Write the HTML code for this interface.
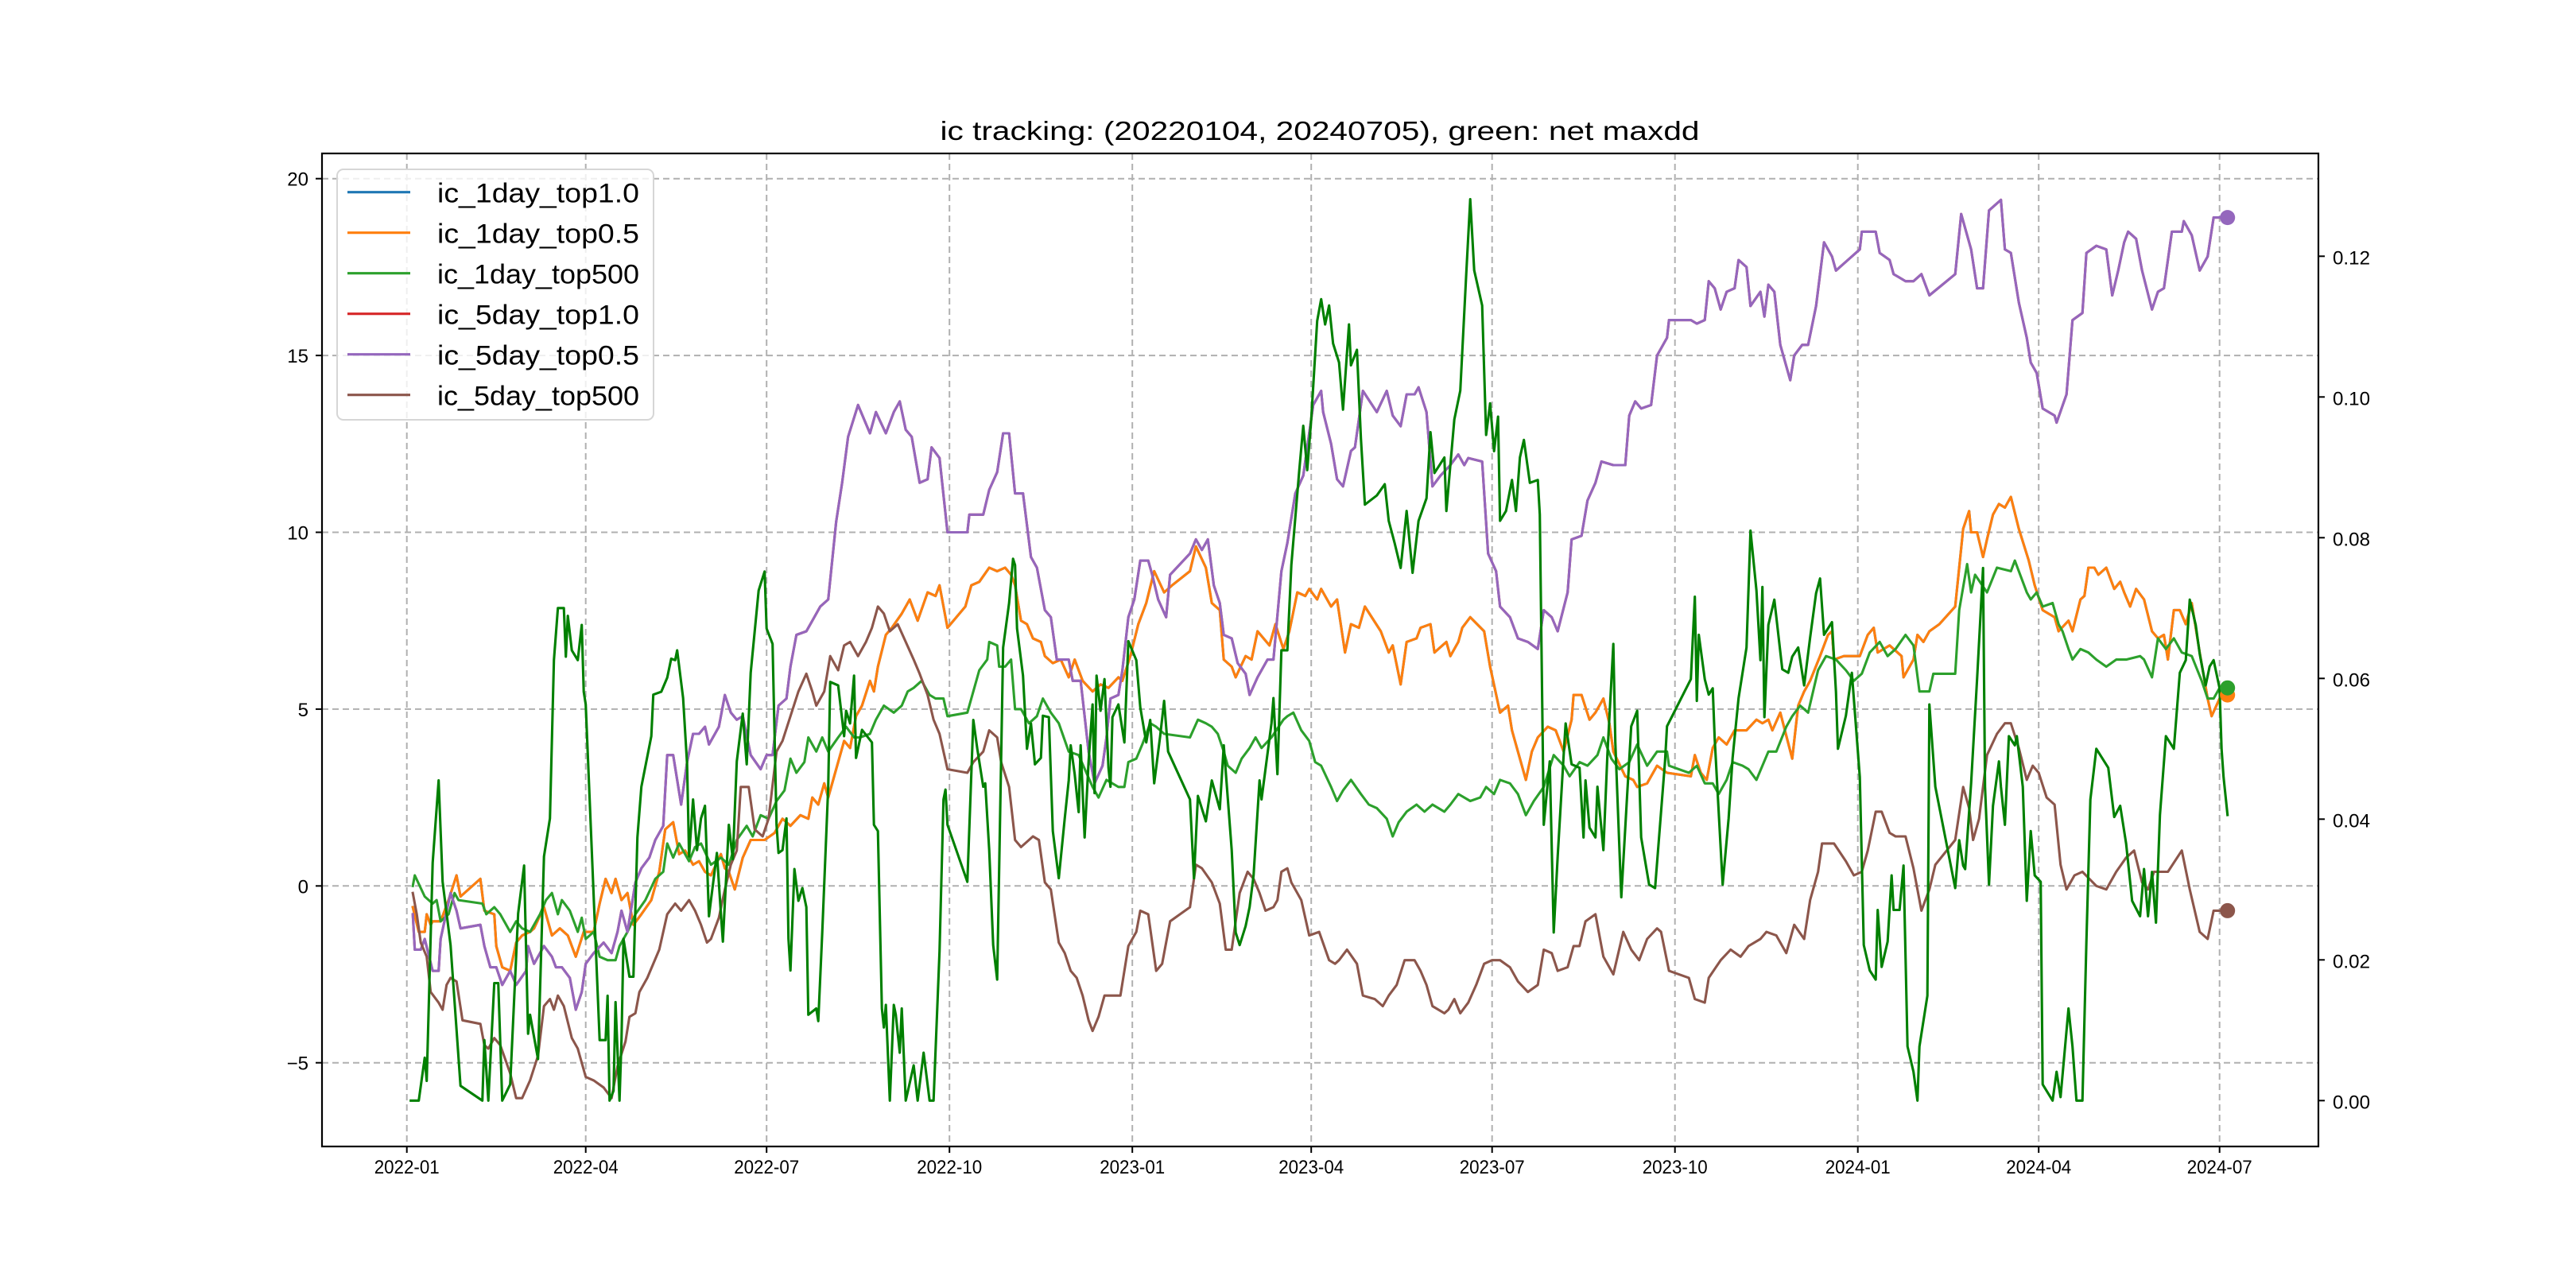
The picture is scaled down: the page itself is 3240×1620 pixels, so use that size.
<!DOCTYPE html>
<html>
<head>
<meta charset="utf-8">
<style>
html,body{margin:0;padding:0;background:#fff;}
svg{display:block;}
text{font-family:"Liberation Sans","Noto Sans CJK SC",sans-serif;fill:#000;}
</style>
</head>
<body>
<svg id="chart" width="3240" height="1620" viewBox="0 0 3240 1620" xmlns="http://www.w3.org/2000/svg">
<rect x="0" y="0" width="3240" height="1620" fill="#fff"/>
<defs><clipPath id="plotclip"><rect x="405" y="193" width="2511" height="1249"/></clipPath></defs>
<g id="grid"></g>
<g id="series" clip-path="url(#plotclip)"></g>
<g id="markers"></g>
<rect x="405" y="193" width="2511" height="1249" fill="none" stroke="#000" stroke-width="2.2"/>
<g id="axes"></g>
<text x="1660" y="176" text-anchor="middle" font-size="33" textLength="955" lengthAdjust="spacingAndGlyphs">ic tracking: (20220104, 20240705), green: net maxdd</text>
<g id="legend"></g>
</svg>
<script>
// ---- data (day offsets from 2022-01-01) ----
const xTickDays = [0,90,181,273,365,455,546,638,730,821,912];
const xTickLabels = ["2022-01","2022-04","2022-07","2022-10","2023-01","2023-04","2023-07","2023-10","2024-01","2024-04","2024-07"];
const leftTicks = [-5,0,5,10,15,20];
const leftTickLabels = ["\u22125","0","5","10","15","20"];
const rightTicks = [0,0.02,0.04,0.06,0.08,0.10,0.12];
const rightTickLabels = ["0.00","0.02","0.04","0.06","0.08","0.10","0.12"];

const purpleDays = [3,4,7,9,13,16,17,22,25,27,37,39,42,45,48,52,55,60,61,64,69,73,75,78,82,85,88,90,94,99,103,106,108,111,115,118,122,125,129,131,134,138,141,144,147,150,152,157,160,163,166,169,173,178,181,184,187,191,193,196,201,204,208,212,216,219,222,227,233,236,241,245,248,251,254,258,262,264,268,272,282,283,290,293,297,300,303,306,310,314,317,321,324,327,330,333,335,339,343,346,350,352,354,358,360,363,366,369,373,375,378,382,384,394,397,400,403,406,409,411,415,418,422,424,428,433,436,440,443,447,451,456,460,461,465,468,471,475,477,481,488,493,496,500,503,507,509,513,516,520,525,529,532,534,541,544,548,550,555,559,564,569,572,576,579,584,586,591,594,598,601,607,613,615,618,621,626,629,634,635,646,649,653,655,658,661,664,668,670,674,676,681,683,685,688,691,696,698,702,705,709,713,717,719,725,731,732,739,741,746,748,751,754,758,762,766,779,782,787,790,793,796,802,804,807,811,815,817,820,823,829,830,835,838,843,845,850,855,858,861,864,866,870,873,878,881,884,888,893,894,898,902,906,909,916];
const purpleVals = [-0.8,-1.8,-1.8,-1.5,-2.4,-2.4,-1.5,-0.2,-0.7,-1.2,-1.1,-1.7,-2.3,-2.3,-2.8,-2.4,-2.8,-2.4,-1.7,-2.2,-1.7,-2.0,-2.3,-2.3,-2.6,-3.5,-3.0,-2.2,-1.9,-1.6,-1.9,-1.3,-0.7,-1.3,0.1,0.5,0.8,1.3,1.7,3.7,3.7,2.3,3.5,4.3,4.3,4.5,4.0,4.5,5.4,4.9,4.7,4.8,3.7,3.3,3.7,3.7,5.1,5.3,6.2,7.1,7.2,7.5,7.9,8.1,10.3,11.4,12.7,13.6,12.8,13.4,12.8,13.4,13.7,12.9,12.7,11.4,11.5,12.4,12.1,10.0,10.0,10.5,10.5,11.2,11.7,12.8,12.8,11.1,11.1,9.3,9.0,7.8,7.6,6.4,6.4,6.4,5.8,5.8,3.8,2.9,3.4,4.2,5.3,5.4,6.1,7.6,8.1,9.2,9.2,8.8,8.1,7.6,8.8,9.4,9.8,9.5,9.8,8.5,8.0,7.1,7.0,6.3,6.0,5.4,5.9,6.4,6.4,8.9,9.7,11.1,11.6,13.6,14.0,13.4,12.5,11.5,11.3,12.3,12.4,14.0,13.4,14.0,13.3,13.0,13.9,13.9,14.1,13.4,11.3,11.6,11.9,12.2,11.9,12.1,12.0,9.4,8.9,7.9,7.6,7.0,6.9,6.7,7.8,7.6,7.2,8.3,9.8,9.9,10.9,11.4,12.0,11.9,11.9,13.3,13.7,13.5,13.6,15.0,15.5,16.0,16.0,15.9,16.0,17.1,16.9,16.3,16.8,16.9,17.7,17.5,16.4,16.8,16.1,17.0,16.8,15.3,14.3,15.0,15.3,15.3,16.4,18.2,17.8,17.4,17.7,18.0,18.5,18.5,17.9,17.7,17.3,17.2,17.1,17.1,17.3,16.7,17.3,19.0,18.0,16.9,16.9,19.1,19.4,18.0,17.9,16.5,15.5,14.8,14.5,13.5,13.3,13.1,13.9,16.0,16.2,17.9,18.1,18.0,16.7,17.4,18.2,18.5,18.3,17.4,16.3,16.8,16.9,18.5,18.5,18.8,18.4,17.4,17.8,18.9,18.9];

const orangeDays = [3,6,9,10,12,13,17,21,25,27,37,39,44,45,48,52,55,58,62,64,69,73,77,81,85,89,94,97,100,103,105,108,111,114,118,123,127,130,134,137,140,144,147,150,153,158,160,162,165,169,173,176,180,185,189,193,198,202,204,207,210,212,217,220,223,226,229,233,235,237,241,244,249,253,257,262,266,268,272,281,284,288,293,297,301,304,306,309,312,315,319,321,325,329,333,336,340,345,349,353,358,360,364,368,372,376,381,385,394,397,402,405,409,411,415,417,422,425,428,434,437,441,444,448,452,454,458,460,465,468,472,475,479,482,490,494,496,500,503,508,510,515,517,523,525,529,531,535,542,545,550,554,556,559,563,566,569,574,578,582,586,587,591,595,598,602,605,607,613,617,619,624,629,634,646,648,651,654,657,660,664,668,674,679,682,685,687,691,697,700,703,706,711,715,717,718,723,727,731,735,738,740,746,752,753,758,760,763,766,771,779,783,786,787,790,793,795,798,801,804,807,811,816,819,823,829,831,836,838,842,844,846,849,851,855,859,862,864,867,870,874,878,881,884,886,889,892,895,898,902,906,908,912,916];
const orangeVals = [-0.6,-1.3,-1.3,-0.8,-1.1,-1.0,-1.0,-0.4,0.3,-0.3,0.2,-0.7,-0.8,-1.7,-2.3,-2.4,-1.6,-1.4,-1.3,-1.2,-0.6,-1.4,-1.2,-1.4,-2.0,-1.3,-1.3,-0.5,0.2,-0.2,0.2,-0.4,-0.2,-1.1,-0.8,-0.4,0.4,1.6,1.8,0.9,1.0,0.6,0.7,0.4,0.3,0.9,0.5,0.4,-0.1,0.8,1.3,1.3,1.3,1.5,1.9,1.7,2.0,1.9,2.5,2.3,2.9,2.5,3.5,4.1,3.9,4.8,5.1,5.8,5.5,6.2,7.1,7.3,7.7,8.1,7.5,8.3,8.2,8.5,7.3,7.9,8.5,8.6,9.0,8.9,9.0,8.8,8.5,7.5,7.4,7.0,6.9,6.5,6.3,6.4,5.9,6.4,5.8,5.5,5.7,5.6,5.9,5.8,6.5,7.4,8.0,8.9,8.3,8.5,8.9,9.6,9.0,8.0,7.8,6.4,6.2,5.9,6.5,6.4,7.2,6.8,7.4,6.7,7.2,8.3,8.2,8.4,8.1,8.4,7.9,8.1,6.6,7.4,7.3,7.9,7.2,6.6,6.8,5.7,6.9,7.0,7.3,7.4,6.6,6.9,6.5,6.9,7.3,7.6,7.2,6.2,4.9,5.1,4.4,3.8,3.0,3.8,4.2,4.5,4.4,3.8,4.7,5.4,5.4,4.7,4.9,5.3,4.6,3.8,3.1,3.0,2.8,2.9,3.4,3.2,3.1,3.7,3.2,3.0,3.9,4.2,4.0,4.4,4.4,4.7,4.6,4.7,4.4,4.9,3.6,5.1,5.5,5.8,6.5,7.1,7.2,6.4,6.5,6.5,6.5,7.1,7.3,6.6,6.8,6.5,5.9,6.4,7.1,6.9,7.2,7.4,7.9,10.1,10.6,10.0,10.0,9.3,9.8,10.5,10.8,10.7,11.0,10.1,9.2,8.5,7.8,7.6,7.2,7.5,7.2,8.1,8.2,9.0,9.0,8.8,9.0,8.4,8.6,8.3,7.9,8.4,8.1,7.2,7.0,7.1,6.4,7.8,7.8,7.4,8.0,6.6,5.3,4.8,5.3,5.4];

const greenDays = [3,4,9,13,15,17,21,24,26,38,40,44,47,52,55,58,62,67,70,73,76,78,82,86,88,90,94,97,101,105,107,111,115,120,125,129,131,134,137,142,145,148,153,158,162,166,171,174,178,182,186,190,193,196,200,202,206,209,212,217,221,225,228,233,236,240,245,249,252,255,259,263,266,270,272,282,285,288,292,293,297,298,301,304,306,309,313,317,320,324,328,333,338,345,348,352,358,361,363,367,370,374,377,381,394,398,402,405,408,411,413,417,420,424,427,430,435,441,443,446,450,454,457,460,465,468,471,475,480,484,488,493,496,499,503,508,512,516,522,525,529,535,540,543,547,550,555,559,563,567,572,577,582,585,590,594,599,602,606,610,615,619,624,629,634,635,645,649,653,657,660,664,667,672,675,679,685,689,694,697,701,705,710,714,719,724,728,732,736,741,745,749,754,758,761,766,768,779,781,785,787,789,795,800,807,809,815,817,820,823,828,831,833,836,838,842,846,850,855,860,865,872,874,878,881,885,889,893,898,903,906,909,912,916];
const greenVals = [0.0,0.3,-0.3,-0.5,-0.4,-1.0,-0.8,-0.2,-0.4,-0.5,-0.8,-0.6,-0.8,-1.3,-1.0,-1.2,-1.3,-0.8,-0.4,-0.2,-0.8,-0.4,-0.7,-1.3,-0.9,-1.5,-1.3,-2.0,-2.1,-2.1,-1.7,-1.3,-0.8,-0.4,0.2,0.4,1.2,0.8,1.2,0.7,1.1,1.2,0.6,0.8,0.6,1.3,1.7,1.4,2.0,1.9,2.4,2.7,3.6,3.2,3.5,4.2,3.8,4.2,3.8,4.2,4.5,4.2,4.2,4.3,4.7,5.1,4.9,5.1,5.5,5.6,5.8,5.4,5.3,5.3,4.8,4.9,5.5,6.1,6.4,6.9,6.8,6.2,6.2,6.4,5.0,5.0,4.6,4.8,5.3,4.9,4.6,3.8,3.7,2.8,2.5,3.0,2.8,2.8,3.5,3.6,4.0,4.6,4.5,4.3,4.2,4.7,4.6,4.5,4.3,3.8,3.4,3.2,3.6,3.9,4.2,3.9,4.2,4.7,4.8,4.9,4.4,4.1,3.5,3.4,2.8,2.4,2.7,3.0,2.6,2.3,2.2,1.9,1.4,1.8,2.1,2.3,2.1,2.3,2.1,2.3,2.6,2.4,2.5,2.8,2.6,3.0,2.9,2.6,2.0,2.4,2.8,3.7,3.4,3.1,3.5,3.4,3.7,4.2,3.6,3.3,3.5,4.0,3.4,3.8,3.8,3.4,3.2,3.4,2.9,2.9,2.6,3.0,3.5,3.4,3.3,3.0,3.8,3.8,4.5,4.8,5.1,4.9,6.1,6.5,6.4,6.1,5.8,6.0,6.6,6.9,6.5,6.7,7.1,6.8,5.5,5.5,6.0,6.0,7.8,9.1,8.3,8.8,8.3,9.0,8.9,9.2,8.3,8.1,8.3,7.9,8.0,7.4,7.2,6.7,6.4,6.7,6.6,6.4,6.2,6.4,6.4,6.5,6.4,5.9,7.0,6.7,7.0,6.6,6.5,5.8,5.3,5.3,5.6,5.6];

const brownDays = [3,5,7,10,12,16,18,20,22,25,28,37,39,41,44,47,52,55,58,62,66,69,72,74,76,79,83,86,90,94,99,103,106,110,112,115,117,121,127,131,135,138,142,145,148,151,153,157,160,163,166,168,172,174,175,179,182,186,189,193,197,201,204,206,210,213,217,220,223,227,231,234,237,240,243,247,251,255,258,262,265,268,272,282,285,290,293,297,299,303,306,309,313,315,318,321,324,328,331,334,337,340,343,345,348,351,354,359,363,367,369,373,377,380,384,389,394,397,400,405,409,412,415,419,423,426,429,432,436,438,440,443,445,450,454,459,464,467,469,473,478,481,487,491,494,498,502,507,510,513,516,522,524,527,530,534,538,542,546,550,555,559,564,569,572,576,579,584,587,590,593,598,602,607,612,616,620,624,629,631,635,645,648,653,655,661,666,671,675,681,684,689,694,698,703,706,710,712,718,724,728,732,735,739,742,746,749,754,758,762,766,769,779,783,786,788,791,795,800,804,807,811,815,818,821,825,829,832,835,839,843,850,855,860,865,869,873,876,879,886,893,897,902,906,909,916];
const brownVals = [-0.2,-0.8,-1.6,-2.0,-3.0,-3.3,-3.5,-2.8,-2.6,-2.7,-3.8,-3.9,-4.5,-4.6,-4.3,-4.5,-5.3,-6.0,-6.0,-5.5,-4.8,-3.4,-3.2,-3.5,-3.1,-3.4,-4.3,-4.6,-5.4,-5.5,-5.7,-6.0,-5.1,-4.4,-3.7,-3.6,-3.0,-2.6,-1.8,-0.8,-0.5,-0.7,-0.4,-0.7,-1.1,-1.6,-1.5,-0.9,-0.1,0.6,1.0,2.8,2.8,2.0,1.6,1.4,1.9,3.8,4.1,4.8,5.5,6.0,5.5,5.1,5.5,6.5,6.1,6.8,6.9,6.5,6.9,7.3,7.9,7.7,7.2,7.4,6.9,6.4,6.0,5.4,4.7,4.3,3.3,3.2,3.5,3.8,4.4,4.2,3.5,2.8,1.3,1.1,1.3,1.4,1.3,0.1,-0.1,-1.6,-1.9,-2.4,-2.6,-3.1,-3.8,-4.1,-3.7,-3.1,-3.1,-3.1,-1.7,-1.3,-0.7,-0.8,-2.4,-2.2,-1.0,-0.8,-0.6,0.6,0.5,0.1,-0.5,-1.8,-1.8,-0.2,0.4,0.2,-0.2,-0.7,-0.6,-0.4,0.4,0.5,0.1,-0.4,-1.4,-1.3,-2.1,-2.2,-2.1,-1.8,-2.2,-3.1,-3.2,-3.4,-3.1,-2.8,-2.1,-2.1,-2.4,-2.8,-3.4,-3.6,-3.5,-3.2,-3.6,-3.3,-2.8,-2.2,-2.1,-2.1,-2.3,-2.7,-3.0,-2.8,-1.8,-1.9,-2.4,-2.3,-1.7,-1.7,-1.0,-0.8,-2.0,-2.5,-1.3,-1.8,-2.1,-1.5,-1.2,-1.3,-2.4,-2.6,-3.2,-3.3,-2.6,-2.1,-1.8,-2.0,-1.7,-1.5,-1.3,-1.4,-1.9,-1.1,-1.5,-0.4,0.4,1.2,1.2,0.7,0.3,0.4,1.0,2.1,2.1,1.5,1.4,1.4,0.5,-0.7,-0.1,0.6,1.3,2.8,2.2,1.3,1.9,3.7,4.3,4.6,4.6,3.9,3.0,3.4,3.2,2.5,2.3,0.6,-0.1,0.3,0.4,0.0,-0.1,0.4,0.8,1.0,0.1,-0.1,0.4,0.4,1.0,-0.1,-1.3,-1.5,-0.7,-0.7];

const maxddDays = [2,6,9,10,13,16,18,22,27,38,39,41,44,46,48,52,56,59,61,62,66,69,72,74,76,79,80,81,83,86,88,89,90,97,100,101,102,104,105,107,108,109,112,114,116,118,123,124,128,131,133,135,136,139,141,142,144,146,148,150,152,156,158,159,162,164,166,169,171,173,177,178,180,181,184,186,187,189,191,192,193,195,197,199,201,202,206,207,209,212,213,217,220,221,223,225,226,229,234,235,237,239,240,241,243,245,246,248,249,251,255,257,260,263,265,268,270,271,272,282,285,287,290,291,293,295,297,300,303,305,306,307,310,312,314,316,319,320,323,325,328,331,333,334,336,338,339,341,343,345,346,347,349,351,353,354,355,358,361,363,367,369,372,374,376,379,381,383,394,396,398,402,405,409,411,415,417,419,422,424,426,429,430,435,436,438,440,443,445,449,451,453,455,458,460,462,464,466,469,471,474,475,478,480,482,488,492,494,497,500,503,506,509,513,515,517,522,523,527,530,533,535,537,541,543,545,547,549,550,553,556,558,560,562,565,569,570,572,575,577,579,582,583,586,590,592,593,595,598,599,602,604,607,608,611,614,616,619,621,625,628,633,634,646,648,649,650,653,655,657,658,662,665,667,670,674,676,679,681,682,683,685,688,692,695,697,700,703,706,709,711,713,717,719,720,724,727,731,733,736,739,740,742,745,747,748,751,753,755,758,760,761,765,766,769,779,781,783,784,787,790,793,794,796,798,801,802,804,806,809,810,813,815,817,819,822,823,828,830,832,836,838,840,843,845,847,850,856,859,862,865,868,872,874,876,878,880,882,885,889,892,895,897,900,902,905,907,909,912,913,914,916];
const maxddVals = [0,0,0.0061,0.0028,0.0338,0.0455,0.0311,0.0221,0.0021,0,0.0086,0,0.0167,0.0167,0,0.0023,0.0266,0.0334,0.0095,0.0122,0.0059,0.0347,0.0401,0.0626,0.0700,0.0700,0.0631,0.0689,0.0640,0.0626,0.0676,0.0581,0.0563,0.0086,0.0086,0.0149,0,0.0014,0.0140,0,0.0086,0.0230,0.0176,0.0176,0.0374,0.0446,0.0518,0.0577,0.0581,0.0601,0.0628,0.0626,0.0640,0.0572,0.0478,0.0347,0.0428,0.0356,0.0401,0.0419,0.0262,0.0352,0.0266,0.0226,0.0392,0.0343,0.0482,0.0550,0.0478,0.0608,0.0725,0.0734,0.0752,0.0671,0.0649,0.0392,0.0352,0.0356,0.0401,0.0230,0.0185,0.0329,0.0284,0.0302,0.0275,0.0122,0.0131,0.0113,0.0239,0.0446,0.0595,0.0590,0.0518,0.0554,0.0536,0.0604,0.0487,0.0527,0.0509,0.0392,0.0383,0.0131,0.0104,0.0136,0,0.0136,0.0122,0.0068,0.0131,0,0.0050,0,0.0068,0,0,0.0212,0.0428,0.0442,0.0392,0.0311,0.0541,0.0500,0.0446,0.0451,0.0356,0.0221,0.0172,0.0644,0.0707,0.0770,0.0761,0.0671,0.0604,0.0500,0.0536,0.0478,0.0487,0.0547,0.0545,0.0383,0.0316,0.0401,0.0455,0.0505,0.0464,0.0410,0.0505,0.0374,0.0482,0.0563,0.0437,0.0604,0.0554,0.0599,0.0473,0.0446,0.0545,0.0563,0.0509,0.0653,0.0626,0.0559,0.0509,0.0541,0.0451,0.0518,0.0568,0.0496,0.0428,0.0316,0.0433,0.0397,0.0455,0.0414,0.0505,0.0356,0.0239,0.0221,0.0248,0.0275,0.0320,0.0455,0.0428,0.0536,0.0572,0.0464,0.0640,0.0640,0.0761,0.0896,0.0959,0.0896,0.0968,0.1108,0.1139,0.1103,0.1130,0.1076,0.1049,0.0982,0.1103,0.1045,0.1067,0.0941,0.0847,0.0860,0.0876,0.0824,0.0792,0.0757,0.0838,0.0750,0.0824,0.0856,0.0950,0.0892,0.0914,0.0838,0.0968,0.1009,0.1175,0.1281,0.1180,0.1130,0.0946,0.0991,0.0923,0.0972,0.0824,0.0838,0.0882,0.0838,0.0914,0.0939,0.0878,0.0882,0.0833,0.0392,0.0482,0.0239,0.0347,0.0491,0.0536,0.0478,0.0473,0.0374,0.0455,0.0388,0.0374,0.0446,0.0356,0.0491,0.0649,0.0509,0.0289,0.0437,0.0532,0.0554,0.0374,0.0307,0.0302,0.0482,0.0532,0.0599,0.0716,0.0568,0.0662,0.0599,0.0577,0.0586,0.0514,0.0307,0.0401,0.0487,0.0572,0.0644,0.0810,0.0725,0.0626,0.0730,0.0545,0.0676,0.0712,0.0613,0.0608,0.0631,0.0644,0.0590,0.0658,0.0721,0.0742,0.0662,0.0680,0.0581,0.0500,0.0547,0.0608,0.0460,0.0221,0.0185,0.0172,0.0271,0.0190,0.0226,0.0320,0.0271,0.0271,0.0334,0.0077,0.0041,0,0.0077,0.0149,0.0563,0.0446,0.0302,0.0370,0.0334,0.0329,0.0451,0.0599,0.0757,0.0446,0.0307,0.0419,0.0482,0.0446,0.0392,0.0518,0.0505,0.0518,0.0446,0.0284,0.0383,0.0320,0.0311,0.0023,0,0.0041,0.0005,0.0131,0.0077,0,0,0.0226,0.0428,0.0500,0.0473,0.0403,0.0419,0.0365,0.0284,0.0262,0.0329,0.0262,0.0325,0.0253,0.0406,0.0518,0.0500,0.0608,0.0626,0.0712,0.0676,0.0635,0.0590,0.0617,0.0626,0.0586,0.0500,0.0460,0.0406];

// ---- scales ----
const PL=405, PR=2916, PT=193, PB=1442;
function xScale(d){ return 511.7 + d*2.5; }
function yLeft(v){ return 1114.3 - 44.48*v; }
function yRight(r){ return 1384.3 - 8850*r; }
const NS="http://www.w3.org/2000/svg";
function mk(tag, attrs, parent){
  const e=document.createElementNS(NS,tag);
  for(const k in attrs) e.setAttribute(k,attrs[k]);
  parent.appendChild(e); return e;
}
const grid=document.getElementById('grid');
const axes=document.getElementById('axes');
const seriesG=document.getElementById('series');
const markersG=document.getElementById('markers');
const legendG=document.getElementById('legend');

// grid + x ticks
xTickDays.forEach((d,i)=>{
  const x=xScale(d);
  const g=mk('line',{x1:x,x2:x,y1:PT,y2:PB,stroke:'#b0b0b0','stroke-width':2,'stroke-dasharray':'8,5'},grid);
  
  
  const t=mk('line',{x1:x,x2:x,y1:PB,y2:PB+8,stroke:'#000','stroke-width':2},axes);
  
  
  const lb=mk('text',{x:x,y:1476,'text-anchor':'middle','font-size':24,textLength:82,lengthAdjust:'spacingAndGlyphs'},axes);
  lb.textContent=xTickLabels[i];
  
  
});
leftTicks.forEach((v,i)=>{
  const y=yLeft(v);
  const g=mk('line',{x1:PL,x2:PR,y1:y,y2:y,stroke:'#b0b0b0','stroke-width':2,'stroke-dasharray':'8,5'},grid);
  
  
  const t=mk('line',{x1:PL-8,x2:PL,y1:y,y2:y,stroke:'#000','stroke-width':2},axes);
  
  
  const lb=mk('text',{x:388,y:y+9,'text-anchor':'end','font-size':24},axes);
  lb.textContent=leftTickLabels[i];
  
  
});
rightTicks.forEach((r,i)=>{
  const y=yRight(r);
  const t=mk('line',{x1:PR,x2:PR+8,y1:y,y2:y,stroke:'#000','stroke-width':2},axes);
  
  
  const lb=mk('text',{x:2934,y:y+10,'font-size':24,textLength:47,lengthAdjust:'spacingAndGlyphs'},axes);
  lb.textContent=rightTickLabels[i];
  
  
});

function drawLine(days, vals, yf, color, name){
  let d='';
  for(let i=0;i<days.length;i++){
    d+=(i?'L':'M')+xScale(days[i]).toFixed(1)+' '+yf(vals[i]).toFixed(1);
  }
  const p=mk('path',{d:d,fill:'none',stroke:color,'stroke-width':3.1,'stroke-linejoin':'round','stroke-linecap':'square'},seriesG);
  
  
}
function drawEnd(days, vals, color, name){
  const n=days.length-1;
  const c=mk('circle',{cx:xScale(days[n]),cy:yLeft(vals[n]),r:9.5,fill:color},markersG);
  
  
}
// top1.0 series share values with top0.5 and are hidden underneath
drawLine(orangeDays, orangeVals, yLeft, '#1f77b4', 'line-ic-1day-top1-0');
drawLine(orangeDays, orangeVals, yLeft, '#ff7f0e', 'line-ic-1day-top0-5');
drawLine(greenDays, greenVals, yLeft, '#2ca02c', 'line-ic-1day-top500');
drawLine(purpleDays, purpleVals, yLeft, '#d62728', 'line-ic-5day-top1-0');
drawLine(purpleDays, purpleVals, yLeft, '#9467bd', 'line-ic-5day-top0-5');
drawLine(brownDays, brownVals, yLeft, '#8c564b', 'line-ic-5day-top500');
drawLine(maxddDays, maxddVals, yRight, '#008000', 'line-net-maxdd');
drawEnd(orangeDays, orangeVals, '#ff7f0e', 'end-marker-1day-top0-5');
drawEnd(greenDays, greenVals, '#2ca02c', 'end-marker-1day-top500');
drawEnd(purpleDays, purpleVals, '#9467bd', 'end-marker-5day-top0-5');
drawEnd(brownDays, brownVals, '#8c564b', 'end-marker-5day-top500');

// legend
const legendNames=["ic_1day_top1.0","ic_1day_top0.5","ic_1day_top500","ic_5day_top1.0","ic_5day_top0.5","ic_5day_top500"];
const legendColors=["#1f77b4","#ff7f0e","#2ca02c","#d62728","#9467bd","#8c564b"];
const box=mk('rect',{x:424,y:213,width:398,height:315,rx:8,fill:'#fff','fill-opacity':0.8,stroke:'#d6d6d6','stroke-width':2},legendG);


legendNames.forEach((nm,i)=>{
  const y=241.7+51*i;
  const ln=mk('line',{x1:437,x2:516,y1:y,y2:y,stroke:legendColors[i],'stroke-width':3.1},legendG);
  
  
  const t=mk('text',{x:550,y:y+13,'font-size':34,textLength:254,lengthAdjust:'spacingAndGlyphs'},legendG);
  t.textContent=nm;
  
  
});
</script>
</body>
</html>
